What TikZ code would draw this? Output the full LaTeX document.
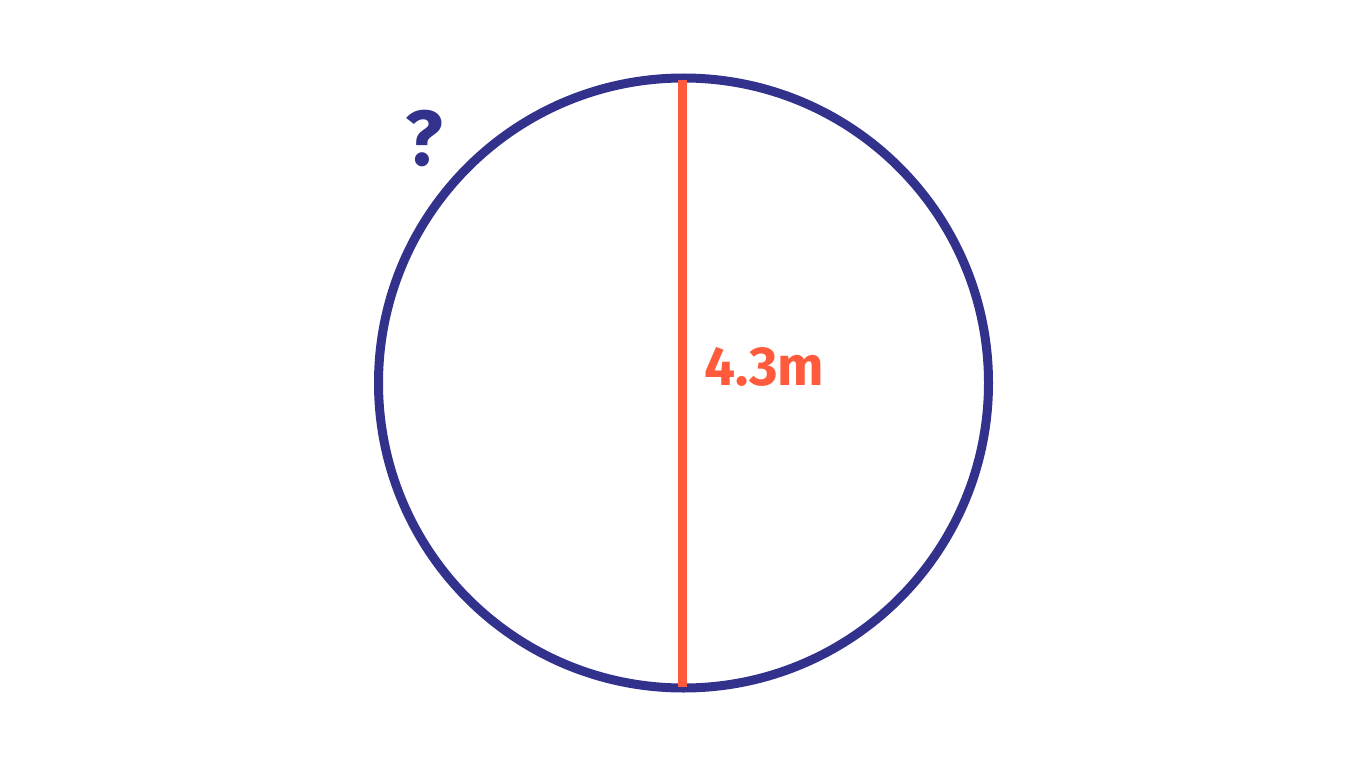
\documentclass[tikz,border=0pt]{standalone}
\usepackage{fontspec}
\setmainfont{Fira Sans}
\definecolor{navy}{HTML}{32318C}
\definecolor{redo}{HTML}{FF5A3C}
\begin{document}
\begin{tikzpicture}[x=1pt,y=-1pt,
  lbl/.style={font=\bfseries\fontsize{55}{60}\selectfont, inner sep=0pt}]
\useasboundingbox (0,0) rectangle (1366,768);
\node[draw=navy, line width=9pt, circle, minimum size=610pt, inner sep=0pt] (c) at (683.5,383) {};
\coordinate (top) at (682.5,80);
\coordinate (bot) at (682.5,687);
\draw[redo, line width=8.5pt] (top) -- (bot);
\node[lbl, text=redo, anchor=south west] (len) at (704,387) {4.3m};
\node[lbl, text=navy, font=\bfseries\fontsize{78}{84}\selectfont, anchor=south west] (q) at (405,167) {?};
\end{tikzpicture}
\end{document}
